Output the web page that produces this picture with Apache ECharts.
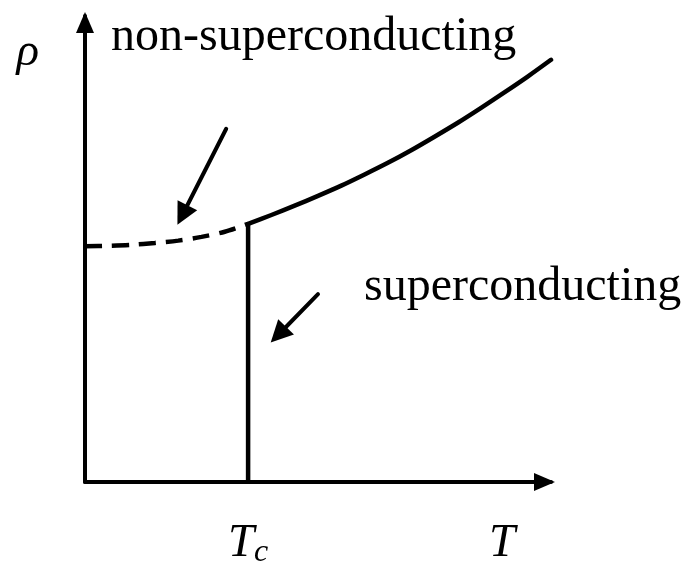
<!DOCTYPE html>
<html>
<head>
<meta charset="utf-8">
<script src="https://cdn.jsdelivr.net/npm/echarts@6/dist/echarts.min.js"></script>
<style>
  html, body { margin: 0; padding: 0; background: #fff; }
  #chart { width: 695px; height: 565px; }
</style>
</head>
<body>
<div id="chart"></div>
<script>
// Resistivity of a normal metal (dashed, extrapolated below Tc) and measured branch above Tc
const normalT   = [0, 5, 10, 15, 20, 25, 30, 35];
const normalRho = [50.6, 50.7, 50.9, 51.3, 51.8, 52.6, 53.7, 55.4];

const measuredT   = [35, 40, 45, 50, 55, 60, 65, 70, 75, 80, 85, 90, 95, 100];
const measuredRho = [55.4, 57.3, 59.3, 61.4, 63.6, 66.0, 68.5, 71.2, 74.1, 77.1, 80.3, 83.6, 87.0, 90.6];

// Critical temperature: resistivity drops to zero
const criticalT = 35;
const dropRho = [0, 55.4];

// Pointer arrows (tail -> head) in data units
const arrowTails = [[30.3, 75.8], [50.0, 40.3]];
const arrowHeads = [[20.9, 57.3], [41.5, 31.6]];

// Axis labels
const xLabelValues = [35, 89.5];
const xLabelTexts  = ['{T|T}{c|c}', '{T|T}'];
const yLabelValues = [92.2];
const yLabelTexts  = ['ρ'];

// Region captions
const captions = ['non-superconducting', 'superconducting'];

const chart = echarts.init(document.getElementById('chart'), null, { renderer: 'canvas' });

const axisLineStyle = { color: '#000', width: 4 };

const option = {
  animation: false,
  backgroundColor: '#fff',
  grid: {
    left: 85, top: 16, right: 144, bottom: 83,
    containLabel: false,
    outerBoundsMode: 'none'
  },
  xAxis: {
    type: 'value',
    min: 0, max: 100,
    splitLine: { show: false },
    axisTick: { show: false },
    axisLine: {
      show: true,
      onZero: false,
      lineStyle: axisLineStyle,
      symbol: ['none', 'triangle'],
      symbolSize: [18, 21],
      symbolOffset: [0, -6.5]
    },
    axisLabel: {
      show: true,
      customValues: xLabelValues,
      margin: 37,
      lineHeight: 50,
      formatter: function (v) {
        const i = xLabelValues.indexOf(v);
        return i >= 0 ? xLabelTexts[i] : '';
      },
      rich: {
        T: { fontFamily: 'Liberation Serif', fontStyle: 'italic', fontSize: 47, lineHeight: 50, color: '#000' },
        c: { fontFamily: 'Liberation Serif', fontStyle: 'italic', fontSize: 32, lineHeight: 32, padding: [18, 0, 0, 0], color: '#000' }
      }
    }
  },
  yAxis: {
    type: 'value',
    min: 0, max: 100,
    splitLine: { show: false },
    axisTick: { show: false },
    axisLine: {
      show: true,
      onZero: false,
      lineStyle: axisLineStyle,
      symbol: ['none', 'triangle'],
      symbolSize: [18, 21],
      symbolOffset: [0, -6.5]
    },
    axisLabel: {
      show: true,
      customValues: yLabelValues,
      margin: 46,
      fontFamily: 'Liberation Serif',
      fontStyle: 'italic',
      fontSize: 47,
      color: '#000',
      formatter: function (v) {
        const i = yLabelValues.indexOf(v);
        return i >= 0 ? yLabelTexts[i] : '';
      }
    }
  },
  series: [
    {
      name: 'normal',
      type: 'line',
      data: normalT.map((t, i) => [t, normalRho[i]]),
      smooth: 0.3,
      showSymbol: false,
      symbol: 'none',
      lineStyle: { color: '#000', width: 4.5, type: [17, 10], cap: 'butt' },
      z: 3
    },
    {
      name: 'measured',
      type: 'line',
      data: measuredT.map((t, i) => [t, measuredRho[i]]),
      smooth: 0.3,
      showSymbol: false,
      symbol: 'none',
      clip: false,
      lineStyle: { color: '#000', width: 4.5, cap: 'round', join: 'round' },
      z: 3
    },
    {
      name: 'drop',
      type: 'line',
      data: dropRho.map(r => [criticalT, r]),
      showSymbol: false,
      symbol: 'none',
      lineStyle: { color: '#000', width: 4.5 },
      z: 3
    },
    {
      name: 'pointers',
      type: 'lines',
      coordinateSystem: 'cartesian2d',
      symbol: ['none', 'triangle'],
      symbolSize: 22,
      lineStyle: { color: '#000', width: 4, opacity: 1, cap: 'round' },
      data: arrowTails.map((p, i) => ({ coords: [p, arrowHeads[i]] })),
      z: 4
    }
  ],
  graphic: [
    {
      type: 'text',
      x: 111, y: 37,
      style: {
        text: captions[0],
        font: '48px "Liberation Serif"',
        fill: '#000',
        verticalAlign: 'middle',
        align: 'left'
      }
    },
    {
      type: 'text',
      x: 364, y: 287,
      style: {
        text: captions[1],
        font: '48px "Liberation Serif"',
        fill: '#000',
        verticalAlign: 'middle',
        align: 'left'
      }
    }
  ]
};

chart.setOption(option);
</script>
</body>
</html>
